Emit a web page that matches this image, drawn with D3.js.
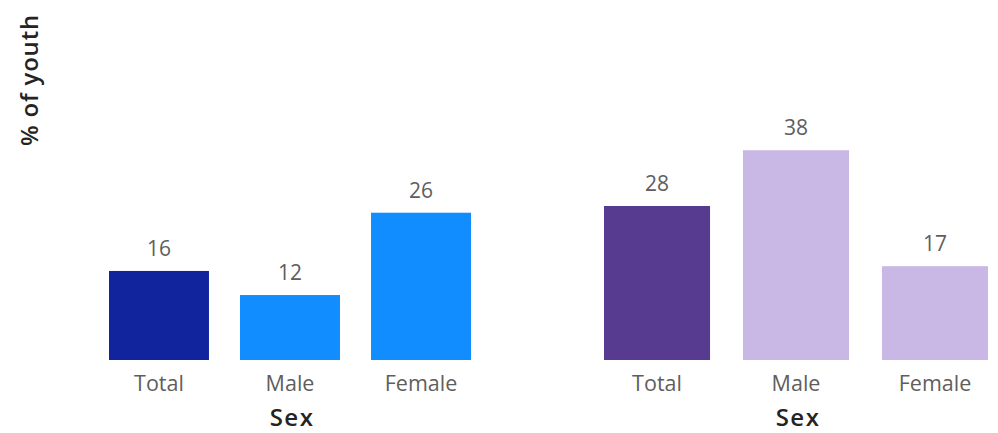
<!DOCTYPE html>
<html><head><meta charset="utf-8">
<script src="https://cdn.jsdelivr.net/npm/d3@7"></script>
<style>body{margin:0;background:#fff}svg{display:block}</style>
</head><body>
<svg id="c" width="998" height="433"></svg>
<script>
const categories = ["Total", "Male", "Female"];
const leftValues = [15.9, 11.6, 26.3];
const rightValues = [27.9, 38.0, 17.0];
const leftColors = ["#12239E", "#118DFF", "#118DFF"];
const rightColors = ["#573B91", "#C9B8E6", "#C9B8E6"];
const xTitle = "Sex";
const yTitle = "% of youth";

const svg = d3.select("#c");
const font = "'Open Sans', 'Noto Sans', sans-serif";
const baseY = 360;

function panel(values, colors, x0, x1, pxPerUnit) {
  const x = d3.scaleBand().domain(categories).range([x0, x1]).paddingInner(0.237).paddingOuter(0);
  const y = d3.scaleLinear().domain([0, 40]).range([baseY, baseY - 40 * pxPerUnit]);
  const g = svg.append("g");
  g.selectAll("rect").data(categories).join("rect")
    .attr("x", d => x(d)).attr("width", x.bandwidth())
    .attr("y", (d, i) => y(values[i])).attr("height", (d, i) => baseY - y(values[i]))
    .attr("fill", (d, i) => colors[i]);
  g.selectAll("text.v").data(categories).join("text").attr("class", "v")
    .attr("x", d => x(d) + x.bandwidth() / 2)
    .attr("y", (d, i) => y(values[i]) - 15)
    .attr("text-anchor", "middle").attr("font-family", font).attr("font-size", 21)
    .attr("fill", "#605E5C").text((d, i) => d3.format(".0f")(values[i]));
  const ax = d3.axisBottom(x).tickSize(0).tickPadding(0);
  const axG = g.append("g").attr("transform", `translate(0,${baseY})`).call(ax);
  axG.select(".domain").remove();
  axG.selectAll("text").attr("y", 31).attr("dy", 0).attr("font-family", font).attr("font-size", 21.5).attr("fill", "#605E5C");
  g.append("text").attr("x", (x0 + x1) / 2 + 2).attr("y", 426).attr("text-anchor", "middle")
    .attr("font-family", font).attr("font-size", 24).attr("font-weight", 600).attr("letter-spacing", 1.5)
    .attr("fill", "#252423").text(xTitle);
}

panel(leftValues, leftColors, 109, 471, 5.6);
panel(rightValues, rightColors, 604, 988, 5.52);

svg.append("text").attr("transform", "translate(38,80) rotate(-90)")
  .attr("text-anchor", "middle").attr("font-family", font).attr("font-size", 24).attr("font-weight", 600)
  .attr("letter-spacing", 0.8).attr("fill", "#252423").text(yTitle);
</script>
</body></html>
